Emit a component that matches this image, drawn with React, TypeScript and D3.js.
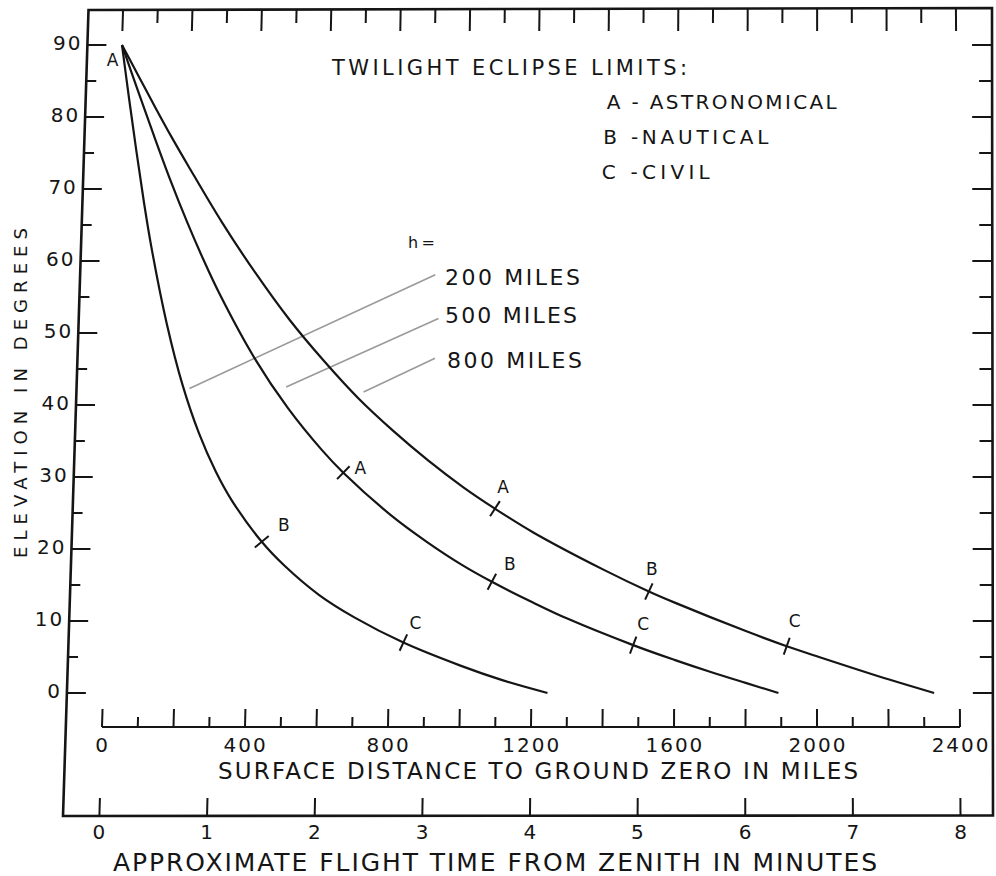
import React from 'react';
import * as d3 from 'd3';

// ---------------- data ----------------
const altitudes = ['200 MILES', '500 MILES', '800 MILES'];

const dist200 = [0, 25, 50, 75, 100, 150, 200, 250, 300, 347, 435, 500, 600, 700, 839, 1000, 1120, 1245];
const elev200 = [90, 82.5, 75.3, 68.4, 62.1, 51.4, 42.8, 36.1, 30.8, 26.8, 21.0, 17.7, 13.6, 10.5, 7.0, 3.8, 1.75, 0];

const dist500 = [0, 50, 100, 150, 200, 250, 300, 400, 500, 600, 661, 800, 900, 1000, 1085, 1200, 1300, 1484, 1600, 1700, 1800, 1892];
const elev500 = [90, 83.6, 77.3, 71.2, 65.5, 60.2, 55.3, 46.7, 39.6, 33.7, 30.6, 24.6, 21.0, 17.8, 15.45, 12.6, 10.3, 6.65, 4.6, 2.95, 1.4, 0];

const dist800 = [0, 50, 100, 150, 200, 300, 400, 500, 600, 700, 800, 900, 1000, 1091, 1200, 1400, 1527, 1600, 1800, 1915, 2000, 2200, 2328];
const elev800 = [90, 85.7, 81.4, 77.2, 73.2, 65.4, 58.3, 51.8, 46.1, 40.9, 36.4, 32.3, 28.6, 25.6, 22.3, 17.1, 14.1, 12.55, 8.6, 6.5, 5.1, 1.9, 0];

// twilight eclipse limit marks on the curves
const markCurve = [0, 0, 1, 1, 1, 2, 2, 2];
const markLetter = ['B', 'C', 'A', 'B', 'C', 'A', 'B', 'C'];
const markDist = [435, 839, 661, 1085, 1484, 1091, 1527, 1915];

// leader lines for the h labels: [distance, elevation] start and end
const leaderStartDist = [220, 494, 714];
const leaderStartElev = [42.3, 42.5, 41.8];
const leaderEndDist = [912, 923, 915];
const leaderEndElev = [58.1, 52.0, 46.5];

const elevTicks = d3.range(0, 91, 5);
const elevLabels = d3.range(0, 91, 10);
const distTicks = d3.range(0, 2401, 100);
const distLabels = d3.range(0, 2401, 400);
const timeTicks = d3.range(0, 9, 1);

const legendTitle = 'TWILIGHT  ECLIPSE  LIMITS:';
const legendItems = ['A - ASTRONOMICAL', 'B -NAUTICAL', 'C -CIVIL'];
const yTitle = 'ELEVATION  IN  DEGREES';
const distTitle = 'SURFACE  DISTANCE  TO  GROUND  ZERO  IN  MILES';
const timeTitle = 'APPROXIMATE  FLIGHT  TIME  FROM  ZENITH  IN  MINUTES';

// ---------------- layout ----------------
const W = 996;
const H = 876;
const FONT = "'DejaVu Sans', sans-serif";
const INK = '#151515';

const xS = d3.scaleLinear().domain([0, 2400]).range([102, 960]);
const tS = d3.scaleLinear().domain([0, 8]).range([102, 960]);
const yS = d3.scaleLinear().domain([0, 90]).range([693, 45]);

// the scanned page is slightly keystoned: emulate it
const warp = (x: number, y: number) => x + (727 - y) * (0.02933 - 4.078e-5 * (x - 102));
const P = (d: number, e: number): [number, number] => {
  const y = yS(e);
  return [warp(xS(d), y), y];
};

// frame corners (scan)
const TL: [number, number] = [88.5, 10];
const TR: [number, number] = [992, 8];
const BR: [number, number] = [993, 815.5];
const BL: [number, number] = [63, 816];
const leftX = (y: number) => BL[0] + (BL[1] - y) * ((TL[0] - BL[0]) / (BL[1] - TL[1]));
const rightX = (y: number) => BR[0] + (BR[1] - y) * ((TR[0] - BR[0]) / (BR[1] - TR[1]));
const topY = (x: number) => TL[1] + (x - TL[0]) * ((TR[1] - TL[1]) / (TR[0] - TL[0]));

const markDx = [22, 12, 17, 18, 10, 8, 3, 8];
const markDy = [-17, -20, -5, -18, -21, -22, -22, -25];

export default function App() {
  const curves = [
    { d: dist200, e: elev200 },
    { d: dist500, e: elev500 },
    { d: dist800, e: elev800 },
  ];
  const line = d3
    .line<[number, number]>()
    .x((p) => p[0])
    .y((p) => p[1])
    .curve(d3.curveCatmullRom.alpha(0.5));

  const curvePaths = curves.map((c) => line(c.d.map((d, i) => P(d, c.e[i]))) as string);

  const marks = markDist.map((md, i) => {
    const c = curves[markCurve[i]];
    const f = d3.scaleLinear().domain(c.d).range(c.e);
    const [cx, cy] = P(md, f(md));
    const [ax, ay] = P(md - 15, f(md - 15));
    const [bx, by] = P(md + 15, f(md + 15));
    const len = Math.hypot(bx - ax, by - ay);
    const tx = (bx - ax) / len;
    const ty = (by - ay) / len;
    const nx = ty;
    const ny = -tx;
    return { cx, cy, nx, ny, letter: markLetter[i], lx: cx + markDx[i], ly: cy + markDy[i] };
  });

  const framePath = `M${TL[0]},${TL[1]}L${TR[0]},${TR[1]}L${BR[0]},${BR[1]}L${BL[0]},${BL[1]}Z`;

  return (
    <svg
      width={W}
      height={H}
      viewBox={`0 0 ${W} ${H}`}
      style={{ position: 'absolute', left: 0, top: 0, background: '#fff' }}
    >
      <rect x={0} y={0} width={W} height={H} fill="#fff" />
      {/* frame */}
      <path d={framePath} fill="none" stroke={INK} strokeWidth={2.6} />

      {/* top ticks */}
      {distTicks.map((d, i) => {
        const y0 = topY(xS(d));
        const y1 = i % 2 === 0 ? 31 : 23;
        return (
          <line
            key={'tt' + d}
            x1={warp(xS(d), y0)}
            y1={y0}
            x2={warp(xS(d), y1)}
            y2={y1}
            stroke={INK}
            strokeWidth={2}
          />
        );
      })}

      {/* left elevation ticks and labels */}
      {elevTicks.map((e) => {
        const y = yS(e);
        const x0 = leftX(y);
        const len = e % 10 === 0 ? 19 : 10;
        return <line key={'lt' + e} x1={x0} y1={y} x2={x0 + len} y2={y} stroke={INK} strokeWidth={2} />;
      })}
      {elevLabels.map((e) => {
        const y = yS(e);
        return (
          <text
            key={'ll' + e}
            x={leftX(y) - 5}
            y={y + 5}
            textAnchor="end"
            fontFamily={FONT}
            fontSize={20}
            fill={INK}
            style={{ letterSpacing: '2px' }}
          >
            {e}
          </text>
        );
      })}

      {/* right ticks */}
      {elevTicks.map((e) => {
        const y = yS(e);
        const x0 = rightX(y);
        const len = e % 10 === 0 ? 20 : 13;
        return <line key={'rt' + e} x1={x0} y1={y} x2={x0 - len} y2={y} stroke={INK} strokeWidth={2} />;
      })}

      {/* y title */}
      <text
        transform={`translate(27,393) rotate(-90)`}
        textAnchor="middle"
        fontFamily={FONT}
        fontSize={18}
        fill={INK}
        textLength={330}
        lengthAdjust="spacing"
      >
        {yTitle}
      </text>

      {/* distance axis */}
      <line x1={xS(0)} y1={727} x2={xS(2400)} y2={727} stroke={INK} strokeWidth={2.2} />
      {distTicks.map((d) => {
        const y1 = d % 200 === 0 ? 709 : 717;
        return (
          <line
            key={'dt' + d}
            x1={warp(xS(d), 727)}
            y1={727}
            x2={warp(xS(d), y1)}
            y2={y1}
            stroke={INK}
            strokeWidth={2}
          />
        );
      })}
      {distLabels.map((d) => (
        <text
          key={'dl' + d}
          x={warp(xS(d), 744) + 1}
          y={751.5}
          textAnchor="middle"
          fontFamily={FONT}
          fontSize={20}
          fill={INK}
          style={{ letterSpacing: '2px' }}
        >
          {d}
        </text>
      ))}
      <text
        x={218}
        y={779}
        fontFamily={FONT}
        fontSize={23}
        fill={INK}
        textLength={640}
        lengthAdjust="spacing"
      >
        {distTitle}
      </text>

      {/* time axis (on bottom frame) */}
      {timeTicks.map((t) => (
        <line
          key={'tk' + t}
          x1={warp(tS(t), 816)}
          y1={816}
          x2={warp(tS(t), 798)}
          y2={798}
          stroke={INK}
          strokeWidth={2}
        />
      ))}
      {timeTicks.map((t) => (
        <text
          key={'tl' + t}
          x={warp(tS(t), 832)}
          y={839}
          textAnchor="middle"
          fontFamily={FONT}
          fontSize={20}
          fill={INK}
        >
          {t}
        </text>
      ))}
      <text
        x={113}
        y={870.5}
        fontFamily={FONT}
        fontSize={25}
        fill={INK}
        textLength={764}
        lengthAdjust="spacing"
      >
        {timeTitle}
      </text>

      {/* leader lines for altitudes */}
      {leaderStartDist.map((d, i) => {
        const a = P(d, leaderStartElev[i]);
        const b = P(leaderEndDist[i], leaderEndElev[i]);
        return (
          <line key={'ld' + i} x1={a[0]} y1={a[1]} x2={b[0]} y2={b[1]} stroke="#9a9a9a" strokeWidth={1.6} />
        );
      })}

      {/* curves */}
      {curvePaths.map((p, i) => (
        <path key={'c' + i} d={p} fill="none" stroke={INK} strokeWidth={2.2} strokeLinejoin="round" />
      ))}

      {/* limit marks */}
      {marks.map((m, i) => (
        <g key={'m' + i}>
          <line
            x1={m.cx - m.nx * 9}
            y1={m.cy - m.ny * 9}
            x2={m.cx + m.nx * 9}
            y2={m.cy + m.ny * 9}
            stroke={INK}
            strokeWidth={2}
          />
          <text
            x={m.lx}
            y={m.ly + 6}
            textAnchor="middle"
            fontFamily={FONT}
            fontSize={17}
            fill={INK}
          >
            {m.letter}
          </text>
        </g>
      ))}
      {/* apex label */}
      <text
        x={P(0, 88)[0] - 9}
        y={P(0, 88)[1] + 7}
        textAnchor="middle"
        fontFamily={FONT}
        fontSize={17}
        fill={INK}
      >
        A
      </text>

      {/* legend */}
      <text x={332} y={74.5} fontFamily={FONT} fontSize={21} fill={INK} textLength={355} lengthAdjust="spacing">
        {legendTitle}
      </text>
      {legendItems.map((s, i) => {
        const xs = [606.7, 603.3, 601.7];
        const ls = [230, 165, 108];
        const ys = [109, 144, 179];
        return (
          <text
            key={'lg' + i}
            x={xs[i]}
            y={ys[i]}
            fontFamily={FONT}
            fontSize={20}
            fill={INK}
            textLength={ls[i]}
            lengthAdjust="spacing"
          >
            {s}
          </text>
        );
      })}

      {/* altitude labels */}
      <text x={408} y={248} fontFamily={FONT} fontSize={16} fill={INK} textLength={27} lengthAdjust="spacing">
        h =
      </text>
      {altitudes.map((s, i) => {
        const xs = [445, 445, 447];
        const ys = [284.7, 323, 368];
        const ls = [135, 132, 135];
        return (
          <text
            key={'al' + i}
            x={xs[i]}
            y={ys[i]}
            fontFamily={FONT}
            fontSize={22}
            fill={INK}
            textLength={ls[i]}
            lengthAdjust="spacing"
          >
            {s}
          </text>
        );
      })}
    </svg>
  );
}
